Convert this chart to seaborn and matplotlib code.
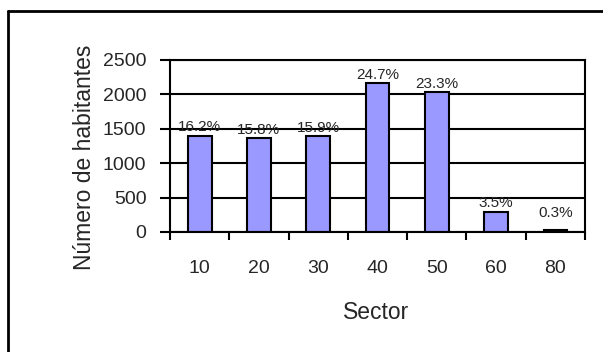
import matplotlib
matplotlib.use("Agg")
import pandas as pd
import seaborn as sns
import matplotlib.pyplot as plt
from matplotlib.lines import Line2D

sectors = ['10', '20', '30', '40', '50', '60', '80']
habitantes = [1400, 1365, 1395, 2160, 2035, 295, 25]
porcentajes = ['16.2%', '15.8%', '15.9%', '24.7%', '23.3%', '3.5%', '0.3%']

sns.set_style("white")
plt.rcParams['font.family'] = ['Liberation Sans', 'DejaVu Sans']

data = pd.DataFrame({'Sector': sectors, 'Habitantes': habitantes})

W, H = 603, 352
fig = plt.figure(figsize=(W / 100, H / 100), dpi=100)
fig.patch.set_facecolor('white')

# outer chart frame (only top and left edges are visible in the crop)
fig.add_artist(Line2D([8 / W, 8 / W], [0, 1 - 11 / H], color='black', lw=2))
fig.add_artist(Line2D([8 / W, 1], [1 - 11 / H, 1 - 11 / H], color='black', lw=2))

ax = fig.add_axes([170 / W, 1 - 232 / H, 415 / W, 172 / H])
ax.set_axisbelow(True)
sns.barplot(data=data, x='Sector', y='Habitantes', color='#9999FF',
            edgecolor='black', linewidth=1.5, width=0.4, saturation=1, ax=ax)

ax.set_xlim(-0.5, len(sectors) - 0.5)
ax.set_ylim(0, 2500)
ax.set_yticks([0, 500, 1000, 1500, 2000, 2500])
ax.yaxis.grid(True, color='black', linewidth=1.5)

for s in ax.spines.values():
    s.set_visible(True)
    s.set_color('black')
    s.set_linewidth(1.5)

ax.tick_params(axis='y', which='major', direction='out', length=7, width=1.5,
               color='black', labelsize=14, pad=10, left=True)
ax.tick_params(axis='x', which='major', length=0, labelsize=14, pad=20, bottom=True)
ax.set_xticks([i - 0.5 for i in range(len(sectors) + 1)], minor=True)
ax.tick_params(axis='x', which='minor', direction='out', length=6, width=1.5,
               color='black', bottom=True)

for i, (v, p) in enumerate(zip(habitantes, porcentajes)):
    ax.annotate(p, (i, max(v, 150)), xytext=(0, 1), textcoords='offset points',
                ha='center', va='bottom', fontsize=11)

ax.set_ylabel('Número de habitantes', fontsize=16.5, va='center')
ax.yaxis.set_label_coords(-0.205, 0.436)
ax.set_xlabel('Sector', fontsize=16.5)
ax.xaxis.set_label_coords(0.496, -0.4)

fig.savefig('out.png', dpi=100)
